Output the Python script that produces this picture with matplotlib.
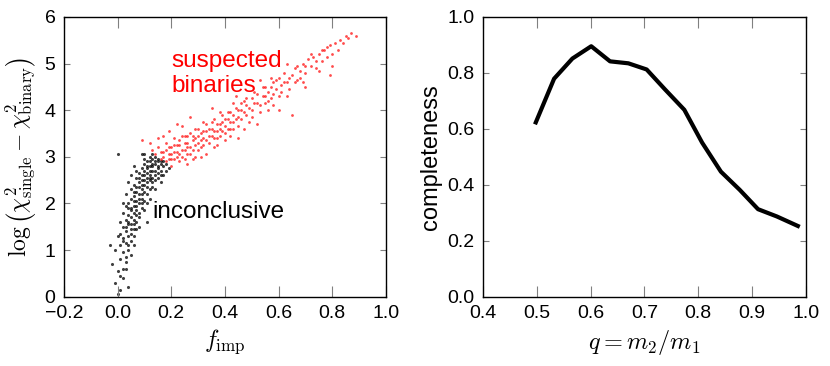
import numpy as np
import matplotlib
matplotlib.use('Agg')
import matplotlib.pyplot as plt

plt.rcParams['font.family'] = ['Liberation Sans', 'DejaVu Sans']
plt.rcParams['mathtext.fontset'] = 'cm'

# venstre panel: punkter lest av figuren (inconclusive = svart, binaries = rødt)
black_pts = [
    (0.00, 0.05), (0.01, 0.15), (-0.01, 0.3), (0.02, 0.4), (0.00, 0.55), (0.03, 0.6),
    (-0.02, 0.7), (0.01, 0.8), (0.03, 0.85), (0.02, 0.95), (0.04, 1.0), (-0.03, 1.1),
    (0.01, 1.1), (0.03, 1.15), (0.05, 1.2), (0.02, 1.25), (0.04, 1.3), (0.06, 1.3),
    (0.03, 1.4), (0.05, 1.45), (0.02, 1.5), (0.04, 1.55), (0.06, 1.55), (0.07, 1.6),
    (0.03, 1.65), (0.05, 1.7), (0.08, 1.7), (0.04, 1.75), (0.06, 1.8), (0.02, 1.8),
    (0.07, 1.85), (0.05, 1.9), (0.09, 1.9), (0.03, 1.95), (0.06, 1.95), (0.08, 2.0),
    (0.04, 2.0), (0.07, 2.05), (0.10, 2.05), (0.05, 2.1), (0.08, 2.1), (0.06, 2.15),
    (0.09, 2.2), (0.11, 2.2), (0.07, 2.25), (0.05, 2.3), (0.09, 2.3), (0.12, 2.3),
    (0.08, 2.35), (0.10, 2.4), (0.06, 2.4), (0.11, 2.45), (0.13, 2.45), (0.09, 2.5),
    (0.07, 2.55), (0.12, 2.55), (0.10, 2.6), (0.14, 2.6), (0.08, 2.65), (0.11, 2.65),
    (0.13, 2.7), (0.09, 2.75), (0.15, 2.75), (0.12, 2.8), (0.10, 2.85), (0.14, 2.85),
    (0.16, 2.85), (0.11, 2.9), (0.13, 2.95), (0.15, 2.9), (0.12, 3.0), (0.14, 3.0),
    (0.10, 3.05), (0.17, 2.8), (0.18, 2.85), (0.16, 2.7), (0.05, 2.6), (0.03, 2.2),
    (0.01, 1.6), (0.00, 1.3), (0.06, 2.8), (0.04, 2.45), (0.16, 2.45), (0.14, 2.3),
    (0.12, 2.1), (0.10, 1.85), (0.08, 1.5), (0.06, 1.1), (0.00, 3.05), (0.09, 3.05),
    (0.19, 2.75), (0.02, 2.0), (0.11, 1.6), (0.04, 0.2), (0.01, 0.45),
    (0.05, 1.35), (0.07, 1.45), (0.04, 1.6), (0.06, 1.65), (0.08, 1.8), (0.05, 1.85),
    (0.07, 1.95), (0.09, 2.0), (0.06, 2.05), (0.08, 2.2), (0.10, 2.25), (0.07, 2.35),
    (0.09, 2.4), (0.11, 2.35), (0.08, 2.45), (0.10, 2.5), (0.12, 2.5), (0.09, 2.6),
    (0.11, 2.55), (0.13, 2.55), (0.10, 2.7), (0.12, 2.7), (0.14, 2.7), (0.11, 2.75),
    (0.13, 2.8), (0.15, 2.8), (0.12, 2.9), (0.14, 2.9), (0.16, 2.9), (0.13, 3.05),
    (0.15, 2.95), (0.17, 2.9), (0.06, 2.25), (0.04, 1.9), (0.03, 1.5), (0.05, 1.55),
    (0.07, 1.75), (0.09, 2.1), (0.11, 2.0), (0.13, 2.35), (0.15, 2.55), (0.17, 2.6),
    (0.02, 1.2), (0.04, 1.1), (0.03, 0.75), (0.05, 0.9), (0.02, 0.6), (0.01, 1.35),
    (-0.01, 1.0), (0.06, 1.45), (0.08, 2.55), (0.10, 2.95), (0.07, 2.7), (0.12, 2.6),
    (0.14, 2.5), (0.16, 2.6), (0.18, 2.7), (0.15, 2.65), (0.13, 2.85), (0.11, 2.8),
]
red_pts = [
    (0.14, 3.05), (0.15, 3.2), (0.16, 2.95), (0.17, 3.1), (0.18, 3.3), (0.18, 2.9),
    (0.19, 3.05), (0.20, 3.2), (0.20, 2.95), (0.21, 3.4), (0.22, 3.1), (0.22, 3.0),
    (0.23, 3.25), (0.24, 3.15), (0.24, 3.45), (0.25, 2.95), (0.25, 3.3), (0.26, 3.2),
    (0.27, 3.5), (0.27, 3.05), (0.28, 3.35), (0.29, 3.25), (0.29, 3.6), (0.30, 3.45),
    (0.30, 3.15), (0.31, 3.35), (0.32, 3.55), (0.32, 3.25), (0.33, 3.7), (0.34, 3.45),
    (0.34, 3.3), (0.35, 3.6), (0.36, 3.4), (0.36, 3.8), (0.37, 3.55), (0.38, 3.7),
    (0.38, 3.45), (0.39, 3.9), (0.40, 3.65), (0.40, 3.5), (0.41, 3.8), (0.42, 3.95),
    (0.42, 3.6), (0.43, 3.75), (0.44, 4.05), (0.45, 3.85), (0.45, 3.65), (0.46, 4.0),
    (0.47, 4.2), (0.48, 3.9), (0.48, 4.1), (0.49, 3.75), (0.50, 4.25), (0.50, 4.0),
    (0.51, 4.4), (0.52, 4.15), (0.53, 3.95), (0.54, 4.3), (0.55, 4.5), (0.55, 4.15),
    (0.56, 4.4), (0.57, 4.25), (0.58, 4.6), (0.59, 4.45), (0.60, 4.3), (0.60, 4.7),
    (0.61, 4.55), (0.62, 4.8), (0.63, 4.6), (0.64, 4.45), (0.65, 4.75), (0.66, 4.9),
    (0.67, 4.65), (0.68, 4.85), (0.69, 5.0), (0.70, 4.8), (0.71, 5.1), (0.72, 4.95),
    (0.73, 5.15), (0.74, 4.9), (0.75, 5.2), (0.76, 5.05), (0.77, 5.3), (0.78, 5.15),
    (0.79, 5.4), (0.80, 5.2), (0.81, 5.45), (0.83, 5.5), (0.85, 5.6), (0.87, 5.65),
    (0.89, 5.6), (0.09, 3.35), (0.12, 3.3), (0.22, 3.7), (0.26, 2.85), (0.33, 3.05),
    (0.45, 3.4), (0.52, 3.7), (0.60, 4.0), (0.65, 3.9), (0.57, 4.7), (0.70, 4.5),
    (0.80, 4.95), (0.79, 4.75), (0.27, 3.85), (0.53, 4.65), (0.63, 5.0), (0.35, 4.05),
    (0.15, 3.4), (0.19, 3.55), (0.24, 3.65), (0.28, 2.95), (0.31, 3.0), (0.20, 2.8),
    (0.17, 3.45), (0.13, 3.15), (0.21, 3.25), (0.23, 2.9), (0.26, 3.45), (0.37, 3.25),
    (0.40, 3.35), (0.43, 4.15), (0.47, 3.6), (0.56, 4.0),
    (0.16, 3.1), (0.17, 3.0), (0.18, 3.15), (0.19, 3.2), (0.19, 2.95), (0.20, 3.05),
    (0.21, 3.1), (0.21, 2.95), (0.22, 3.25), (0.23, 3.05), (0.23, 3.35), (0.24, 3.0),
    (0.25, 3.15), (0.25, 3.45), (0.26, 3.3), (0.26, 3.05), (0.27, 3.2), (0.28, 3.45),
    (0.28, 3.15), (0.29, 3.4), (0.30, 3.3), (0.30, 3.6), (0.31, 3.5), (0.31, 3.2),
    (0.32, 3.4), (0.33, 3.35), (0.33, 3.55), (0.34, 3.6), (0.35, 3.45), (0.35, 3.75),
    (0.36, 3.55), (0.37, 3.7), (0.37, 3.4), (0.38, 3.6), (0.39, 3.55), (0.39, 3.75),
    (0.40, 3.8), (0.41, 3.6), (0.41, 3.95), (0.42, 3.75), (0.43, 3.9), (0.43, 3.6),
    (0.44, 3.8), (0.45, 4.0), (0.46, 3.8), (0.46, 4.15), (0.47, 3.95), (0.48, 4.25),
    (0.49, 4.05), (0.50, 3.85), (0.51, 4.15), (0.52, 4.35), (0.53, 4.1), (0.54, 4.5),
    (0.55, 4.3), (0.56, 4.2), (0.57, 4.5), (0.58, 4.35), (0.59, 4.65), (0.61, 4.4),
    (0.62, 4.6), (0.64, 4.7), (0.66, 4.6), (0.67, 4.95), (0.68, 4.7), (0.70, 4.95),
    (0.72, 5.2), (0.74, 5.05), (0.76, 5.3), (0.78, 5.35), (0.82, 5.3), (0.84, 5.45),
    (0.86, 5.55), (0.75, 4.85), (0.69, 4.6), (0.58, 4.1), (0.63, 4.3), (0.44, 4.3),
    (0.38, 3.95), (0.32, 3.75), (0.29, 3.0), (0.36, 3.2), (0.42, 3.45),
]

# høyre panel: completeness mot q
q = [0.498, 0.532, 0.566, 0.601, 0.636, 0.670, 0.704, 0.738, 0.774, 0.807,
     0.842, 0.877, 0.911, 0.946, 0.985]
completeness = [0.623, 0.779, 0.851, 0.895, 0.841, 0.834, 0.812, 0.741, 0.668, 0.551,
                0.447, 0.382, 0.313, 0.287, 0.253]

bx, by = zip(*black_pts)
rx, ry = zip(*red_pts)

fig = plt.figure(figsize=(8.3, 3.66), dpi=100)
ax1 = fig.add_axes([0.077, 0.189, 0.388, 0.765])
ax2 = fig.add_axes([0.582, 0.189, 0.389, 0.765])

ax1.scatter(bx, by, s=5, c='black', lw=0, alpha=0.75)
ax1.scatter(rx, ry, s=4, c='red', lw=0, alpha=0.7)
ax1.set_xlim(-0.2, 1.0)
ax1.set_ylim(0, 6)
ax1.text(0.2, 4.93, 'suspected', color='red', fontsize=17.5, va='baseline', ha='left')
ax1.text(0.2, 4.39, 'binaries', color='red', fontsize=17.5, va='baseline', ha='left')
ax1.text(0.13, 1.69, 'inconclusive', color='black', fontsize=17.5, va='baseline')
ax1.set_xlabel(r'$f_{\rm imp}$', fontsize=17.5)
ax1.set_ylabel(r'$\log\left(\chi^2_{\rm single}-\chi^2_{\rm binary}\right)$', fontsize=17)

ax2.plot(q, completeness, color='black', lw=3)
ax2.set_xlim(0.4, 1.0)
ax2.set_ylim(0.0, 1.0)
ax2.set_xlabel(r'$q=m_2/m_1$', fontsize=17.5)
ax2.set_ylabel('completeness', fontsize=17)

for ax in (ax1, ax2):
    ax.tick_params(axis='both', which='major', direction='in', top=True, right=True,
                   labelsize=14, color='gray', pad=6)
    ax.tick_params(axis='x', length=8)
    ax.tick_params(axis='y', length=4)
    for sp in ax.spines.values():
        sp.set_linewidth(1.0)

ax1.set_xticks(np.arange(-0.2, 1.01, 0.2))
ax1.set_xticklabels(['\u22120.2', '0.0', '0.2', '0.4', '0.6', '0.8', '1.0'])
ax2.set_xticks(np.arange(0.4, 1.01, 0.1))
ax2.set_yticks(np.arange(0, 1.01, 0.2))

fig.savefig('out.png', dpi=100)
